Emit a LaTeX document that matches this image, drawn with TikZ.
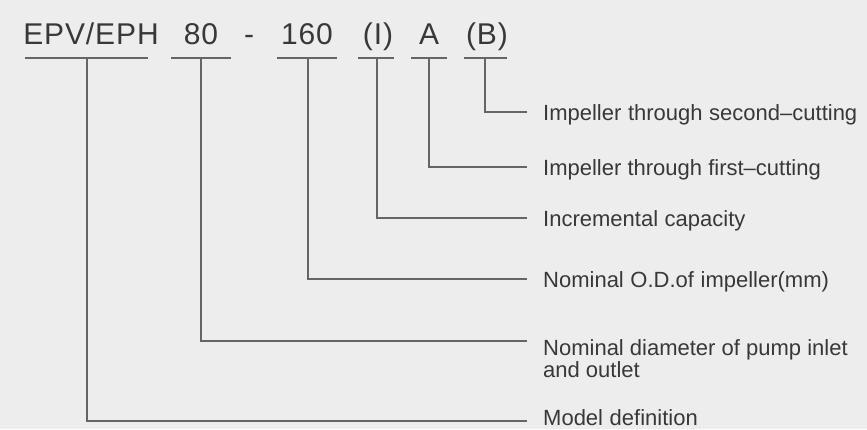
\documentclass[tikz,border=0pt]{standalone}
\usepackage{fontspec}
\setmainfont{Liberation Sans}
\newfontfamily\headfont[LetterSpace=3]{Liberation Sans}
\definecolor{paper}{HTML}{EDEDED}
\definecolor{ink}{HTML}{383838}
\definecolor{rulegray}{HTML}{656565}
\newcommand\gap{\hspace{0.3em}}

\begin{document}
\begin{tikzpicture}[x=1pt,y=-1pt,
    head/.style={anchor=base, inner sep=0pt, text=ink,
        font=\headfont\fontsize{30}{32}\selectfont},
    note/.style={anchor=base west, inner sep=0pt, text=ink, align=left,
        font=\fontsize{22}{22}\selectfont},
    rule/.style={draw=rulegray, line width=1.4pt}]
    \fill[paper] (0,0) rectangle (867,429);
    \useasboundingbox (0,0) rectangle (867,429);

    % model code
    \node[head] (hEPV) at (91,44) {EPV/EPH};
    \node[head] (h80) at (201,44) {80};
    \node[head] (hdash) at (249,44) {-};
    \node[head] (h160) at (307,44) {160};
    \node[head] (hI) at (378,44) {(I)};
    \node[head] (hA) at (429,44) {A};
    \node[head] (hB) at (487,44) {(B)};

    % underlines and leaders
    \foreach \n/\a/\b/\x/\y in {EPV/25/148/87/421, 80/171/231/201/341,
        160/277/337/308/279, I/358/394/377/218, A/411/447/429/167, B/464/507/485/112}
    {
        \draw[rule] (\a,58) -- (\b,58);
        \coordinate (u\n) at (\x,58);
        \coordinate (e\n) at (527,\y);
        \draw[rule] (u\n) |- (e\n);
    }

    \node[note] (lB) at ([shift={(16,8)}]eB) {Impeller\gap through\gap second--cutting};
    \node[note] (lA) at ([shift={(16,8)}]eA) {Impeller through first--cutting};
    \node[note] (lI) at ([shift={(16,8)}]eI) {Incremental\gap capacity};
    \node[note] (l160) at ([shift={(16,8)}]e160) {Nominal\gap O.D.of\gap impeller(mm)};
    % base of a two-line node is its last line
    \node[note] (l80) at ([shift={(16,36)}]e80) {Nominal diameter of pump inlet\\and outlet};
    \node[note] (lEPV) at ([shift={(16,4)}]eEPV) {Model\gap definition};
\end{tikzpicture}
\end{document}
